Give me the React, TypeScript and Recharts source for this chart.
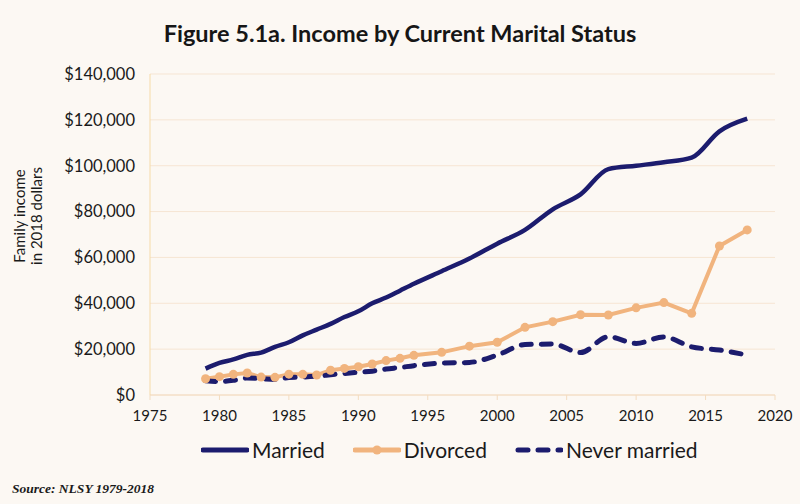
import React from "react";
import { LineChart, Line, XAxis, YAxis, CartesianGrid } from "recharts";

const years = [
  1979, 1980, 1981, 1982, 1983, 1984, 1985, 1986, 1987, 1988, 1989, 1990, 1991, 1992,
  1993, 1994, 1996, 1998, 2000, 2002, 2004, 2006, 2008, 2010, 2012, 2014, 2016, 2018,
];

const married = [
  11500, 14000, 15500, 17500, 18500, 21000, 23000, 26000, 28500, 31000, 34000, 36500, 40000, 42500,
  45500, 48500, 54000, 59500, 66000, 72000, 81000, 87500, 98500, 100000, 101500, 103500, 115000, 120500,
];

const divorced = [
  7100, 8000, 9000, 9600, 7800, 7700, 9100, 9000, 8700, 10800, 11600, 12300, 13500, 15000,
  16000, 17300, 18600, 21300, 23000, 29500, 32000, 35000, 34900, 38000, 40300, 35600, 65000, 72000,
];

const neverMarried = [
  6200, 5900, 6400, 7400, 7100, 6800, 7600, 7800, 8200, 8800, 9400, 9900, 10400, 11300,
  12000, 12800, 13900, 14200, 17400, 22000, 22200, 18500, 25400, 22500, 25300, 21000, 19600, 17400,
];

const xTicks = [1975, 1980, 1985, 1990, 1995, 2000, 2005, 2010, 2015, 2020];
const yTicks = [0, 20000, 40000, 60000, 80000, 100000, 120000, 140000];

const NAVY = "#1c1c6e";
const PEACH = "#f1b47e";
const BG = "#fcf8f3";
const FONT = "Lato, 'Noto Sans', sans-serif";

const data = years.map((year, i) => ({
  year,
  married: married[i],
  divorced: divorced[i],
  neverMarried: neverMarried[i],
}));

const fmtDollar = (v: number) => `$${v.toLocaleString("en-US")}`;

function LegendItem({ label, kind }: { label: string; kind: "solid" | "marker" | "dash" }) {
  return (
    <div style={{ display: "flex", alignItems: "center" }}>
      <svg width={48} height={12} style={{ marginRight: 3 }}>
        {kind === "dash" ? (
          <line x1={3} y1={6} x2={46} y2={6} stroke={NAVY} strokeWidth={5} strokeDasharray="10 10" strokeLinecap="round" />
        ) : (
          <line x1={2} y1={6} x2={46} y2={6} stroke={kind === "solid" ? NAVY : PEACH} strokeWidth={5} strokeLinecap="round" />
        )}
        {kind === "marker" && <circle cx={24} cy={6} r={4.5} fill={PEACH} />}
      </svg>
      <span>{label}</span>
    </div>
  );
}

export default function App() {
  return (
    <div
      style={{
        position: "fixed",
        left: 0,
        top: 0,
        width: 800,
        height: 504,
        background: BG,
        fontFamily: FONT,
        color: "#1a1a1a",
        overflow: "hidden",
      }}
    >
      <div
        style={{
          position: "absolute",
          top: 19,
          left: 0,
          width: 800,
          textAlign: "center",
          fontSize: 23.5,
          lineHeight: "28px",
          fontWeight: 700,
          color: "#161616",
        }}
      >
        Figure 5.1a. Income by Current Marital Status
      </div>

      <div
        style={{
          position: "absolute",
          left: 28,
          top: 216,
          transform: "translate(-50%, -50%) rotate(-90deg)",
          fontSize: 15,
          lineHeight: "17px",
          textAlign: "center",
          whiteSpace: "nowrap",
        }}
      >
        Family income
        <br />
        in 2018 dollars
      </div>

      <div style={{ position: "absolute", left: 0, top: 0 }}>
        <LineChart width={800} height={504} data={data} margin={{ top: 74, right: 25, bottom: 79, left: 70 }}>
          <CartesianGrid vertical={false} stroke="#f6e5d3" strokeWidth={1} />
          <XAxis
            dataKey="year"
            type="number"
            domain={[1975, 2020]}
            ticks={xTicks}
            height={30}
            axisLine={{ stroke: "#f3dcc0" }}
            tickLine={{ stroke: "#f3dcc0" }}
            tickSize={5}
            tickMargin={10}
            tick={{ fill: "#1a1a1a", fontSize: 15, fontFamily: FONT }}
          />
          <YAxis
            type="number"
            domain={[0, 140000]}
            ticks={yTicks}
            width={80}
            axisLine={{ stroke: "#f6dba8" }}
            tickLine={false}
            tickMargin={9}
            tickFormatter={fmtDollar}
            tick={{ fill: "#1a1a1a", fontSize: 16.5, fontFamily: FONT }}
          />
          <Line
            type="monotone"
            dataKey="married"
            stroke={NAVY}
            strokeWidth={4.5}
            dot={false}
            isAnimationActive={false}
          />
          <Line
            type="linear"
            dataKey="divorced"
            stroke={PEACH}
            strokeWidth={4}
            dot={{ r: 4.5, fill: PEACH, stroke: "none" }}
            isAnimationActive={false}
          />
          <Line
            type="monotone"
            dataKey="neverMarried"
            stroke={NAVY}
            strokeWidth={5}
            strokeDasharray="10 10"
            strokeLinecap="round"
            dot={false}
            isAnimationActive={false}
          />
        </LineChart>
      </div>

      <div
        style={{
          position: "absolute",
          left: 201,
          top: 437,
          display: "flex",
          alignItems: "center",
          gap: 28,
          fontSize: 21,
        }}
      >
        <LegendItem label="Married" kind="solid" />
        <LegendItem label="Divorced" kind="marker" />
        <LegendItem label="Never married" kind="dash" />
      </div>

      <div
        style={{
          position: "absolute",
          left: 12,
          top: 481,
          fontFamily: "'Liberation Serif', 'Times New Roman', serif",
          fontStyle: "italic",
          fontWeight: 700,
          fontSize: 13.5,
        }}
      >
        Source: NLSY 1979-2018
      </div>
    </div>
  );
}
